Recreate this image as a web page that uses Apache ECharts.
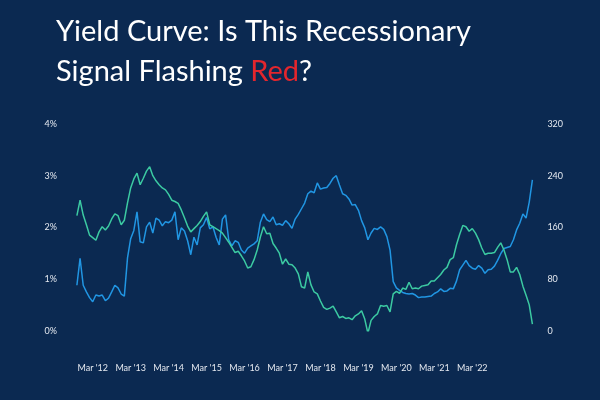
<!DOCTYPE html>
<html lang="en" style="height: 100%">
<head>
  <meta charset="utf-8">
</head>
<body style="height: 100%; margin: 0; background: #0b2951">
  <div id="container" style="height: 100%"></div>

  <script type="text/javascript" src="https://fastly.jsdelivr.net/npm/echarts@6/dist/echarts.min.js"></script>
  <script type="text/javascript">
    // monthly observations, Oct 2011 .. Oct 2023 (145 points)
    var startYear = 2011, startMonth = 10, pointCount = 145;

    // blue line, left axis (%)
    var yieldPct = [
      0.88, 1.40, 0.88, 0.75, 0.64, 0.56, 0.69, 0.67, 0.69, 0.58,
      0.63, 0.75, 0.88, 0.83, 0.71, 0.67, 1.41, 1.78, 1.94, 2.30,
      1.72, 1.70, 2.01, 2.10, 1.89, 2.18, 2.14, 2.03, 2.11, 2.09,
      2.14, 2.30, 1.76, 1.99, 1.93, 1.74, 1.47, 1.81, 1.66, 1.99,
      2.05, 2.19, 1.97, 2.01, 1.81, 1.66, 2.16, 2.24, 1.76, 1.64,
      1.74, 1.71, 1.56, 1.50, 1.60, 1.64, 1.68, 1.74, 2.10, 2.26,
      2.15, 2.11, 2.20, 2.05, 2.07, 2.04, 2.13, 2.07, 1.98, 2.16,
      2.25, 2.36, 2.47, 2.65, 2.70, 2.67, 2.86, 2.74, 2.76, 2.77,
      2.85, 2.95, 3.00, 2.82, 2.65, 2.62, 2.55, 2.43, 2.44, 2.33,
      2.13, 1.99, 1.76, 1.89, 1.98, 1.96, 2.01, 1.96, 1.82, 1.56,
      0.95, 0.83, 0.78, 0.74, 0.72, 0.71, 0.72, 0.69, 0.64, 0.65,
      0.65, 0.66, 0.67, 0.72, 0.75, 0.81, 0.76, 0.77, 0.82, 0.81,
      0.96, 1.18, 1.27, 1.36, 1.26, 1.21, 1.19, 1.26, 1.21, 1.11,
      1.18, 1.19, 1.25, 1.36, 1.49, 1.59, 1.61, 1.63, 1.76, 1.95,
      2.08, 2.26, 2.18, 2.49, 2.92
    ];

    // green line, right axis (basis points)
    var spreadBp = [
      178, 202, 179, 164, 148, 144, 140, 153, 161, 156,
      162, 173, 181, 178, 164, 171, 198, 221, 235, 244,
      226, 236, 247, 254, 240, 232, 226, 221, 218, 211,
      202, 200, 197, 187, 175, 162, 153, 158, 163, 169,
      177, 184, 164, 161, 158, 155, 151, 144, 137, 129,
      121, 123, 116, 108, 97, 99, 110, 125, 145, 161,
      150, 151, 135, 128, 120, 103, 111, 103, 102, 97,
      88, 68, 66, 91, 71, 60, 57, 46, 36, 33,
      35, 38, 29, 20, 22, 19, 20, 17, 23, 26,
      31, 18, -4, 16, 22, 26, 39, 38, 39, 29,
      57, 61, 58, 66, 64, 75, 65, 66, 65, 69,
      70, 71, 77, 77, 82, 87, 94, 98, 110, 113,
      133, 149, 163, 161, 154, 158, 151, 141, 128, 118,
      120, 120, 121, 129, 136, 125, 110, 91, 91, 98,
      87, 69, 55, 40, 10
    ];

    var tickMonths = ['2012-03', '2013-03', '2014-03', '2015-03', '2016-03', '2017-03',
      '2018-03', '2019-03', '2020-03', '2021-03', '2022-03'];
    var tickLabels = ["Mar '12", "Mar '13", "Mar '14", "Mar '15", "Mar '16", "Mar '17",
      "Mar '18", "Mar '19", "Mar '20", "Mar '21", "Mar '22"];

    var months = [];
    for (var i = 0; i < pointCount; i++) {
      var m = startMonth - 1 + i;
      var y = startYear + Math.floor(m / 12);
      var mm = (m % 12) + 1;
      months.push(y + '-' + (mm < 10 ? '0' + mm : mm));
    }

    var dom = document.getElementById('container');
    var myChart = echarts.init(dom, null, { renderer: 'canvas' });

    var font = 'Lato';
    var labelColor = '#e4e8ef';

    var option = {
      backgroundColor: '#0b2951',
      animation: false,
      title: {
        left: 51,
        top: 7,
        text: '{w|Yield Curve: Is This Recessionary}\n{w|Signal Flashing }{r|Red}{w|?}',
        textStyle: {
          rich: {
            w: { color: '#ffffff', fontSize: 29, fontWeight: 'normal', fontFamily: font, lineHeight: 40 },
            r: { color: '#e3262d', fontSize: 29, fontWeight: 'normal', fontFamily: font, lineHeight: 40 }
          }
        }
      },
      grid: {
        left: 76.9,
        right: 67.6,
        top: 124,
        bottom: 69.3
      },
      xAxis: {
        type: 'category',
        data: months,
        boundaryGap: false,
        axisLine: { show: false },
        axisTick: { show: false },
        axisLabel: {
          color: labelColor,
          fontSize: 9,
          fontFamily: font,
          margin: 33,
          interval: function (idx, val) { return tickMonths.indexOf(val) >= 0; },
          formatter: function (val) { return tickLabels[tickMonths.indexOf(val)]; }
        }
      },
      yAxis: [{
        type: 'value',
        min: 0,
        max: 4,
        interval: 1,
        splitLine: { show: false },
        axisLine: { show: false },
        axisTick: { show: false },
        axisLabel: {
          color: labelColor,
          fontSize: 9,
          fontFamily: font,
          margin: 20,
          formatter: '{value}%'
        }
      }, {
        type: 'value',
        min: 0,
        max: 320,
        interval: 80,
        splitLine: { show: false },
        axisLine: { show: false },
        axisTick: { show: false },
        axisLabel: {
          color: labelColor,
          fontSize: 9,
          fontFamily: font,
          margin: 15
        }
      }],
      series: [{
        name: 'Yield',
        type: 'line',
        yAxisIndex: 0,
        data: yieldPct,
        showSymbol: false,
        lineStyle: { color: '#2196e3', width: 1.5 },
        itemStyle: { color: '#2196e3' }
      }, {
        name: 'Spread',
        type: 'line',
        yAxisIndex: 1,
        data: spreadBp,
        showSymbol: false,
        lineStyle: { color: '#3ccaa2', width: 1.5 },
        itemStyle: { color: '#3ccaa2' }
      }]
    };

    myChart.setOption(option);
    window.addEventListener('resize', myChart.resize);
  </script>
</body>
</html>
